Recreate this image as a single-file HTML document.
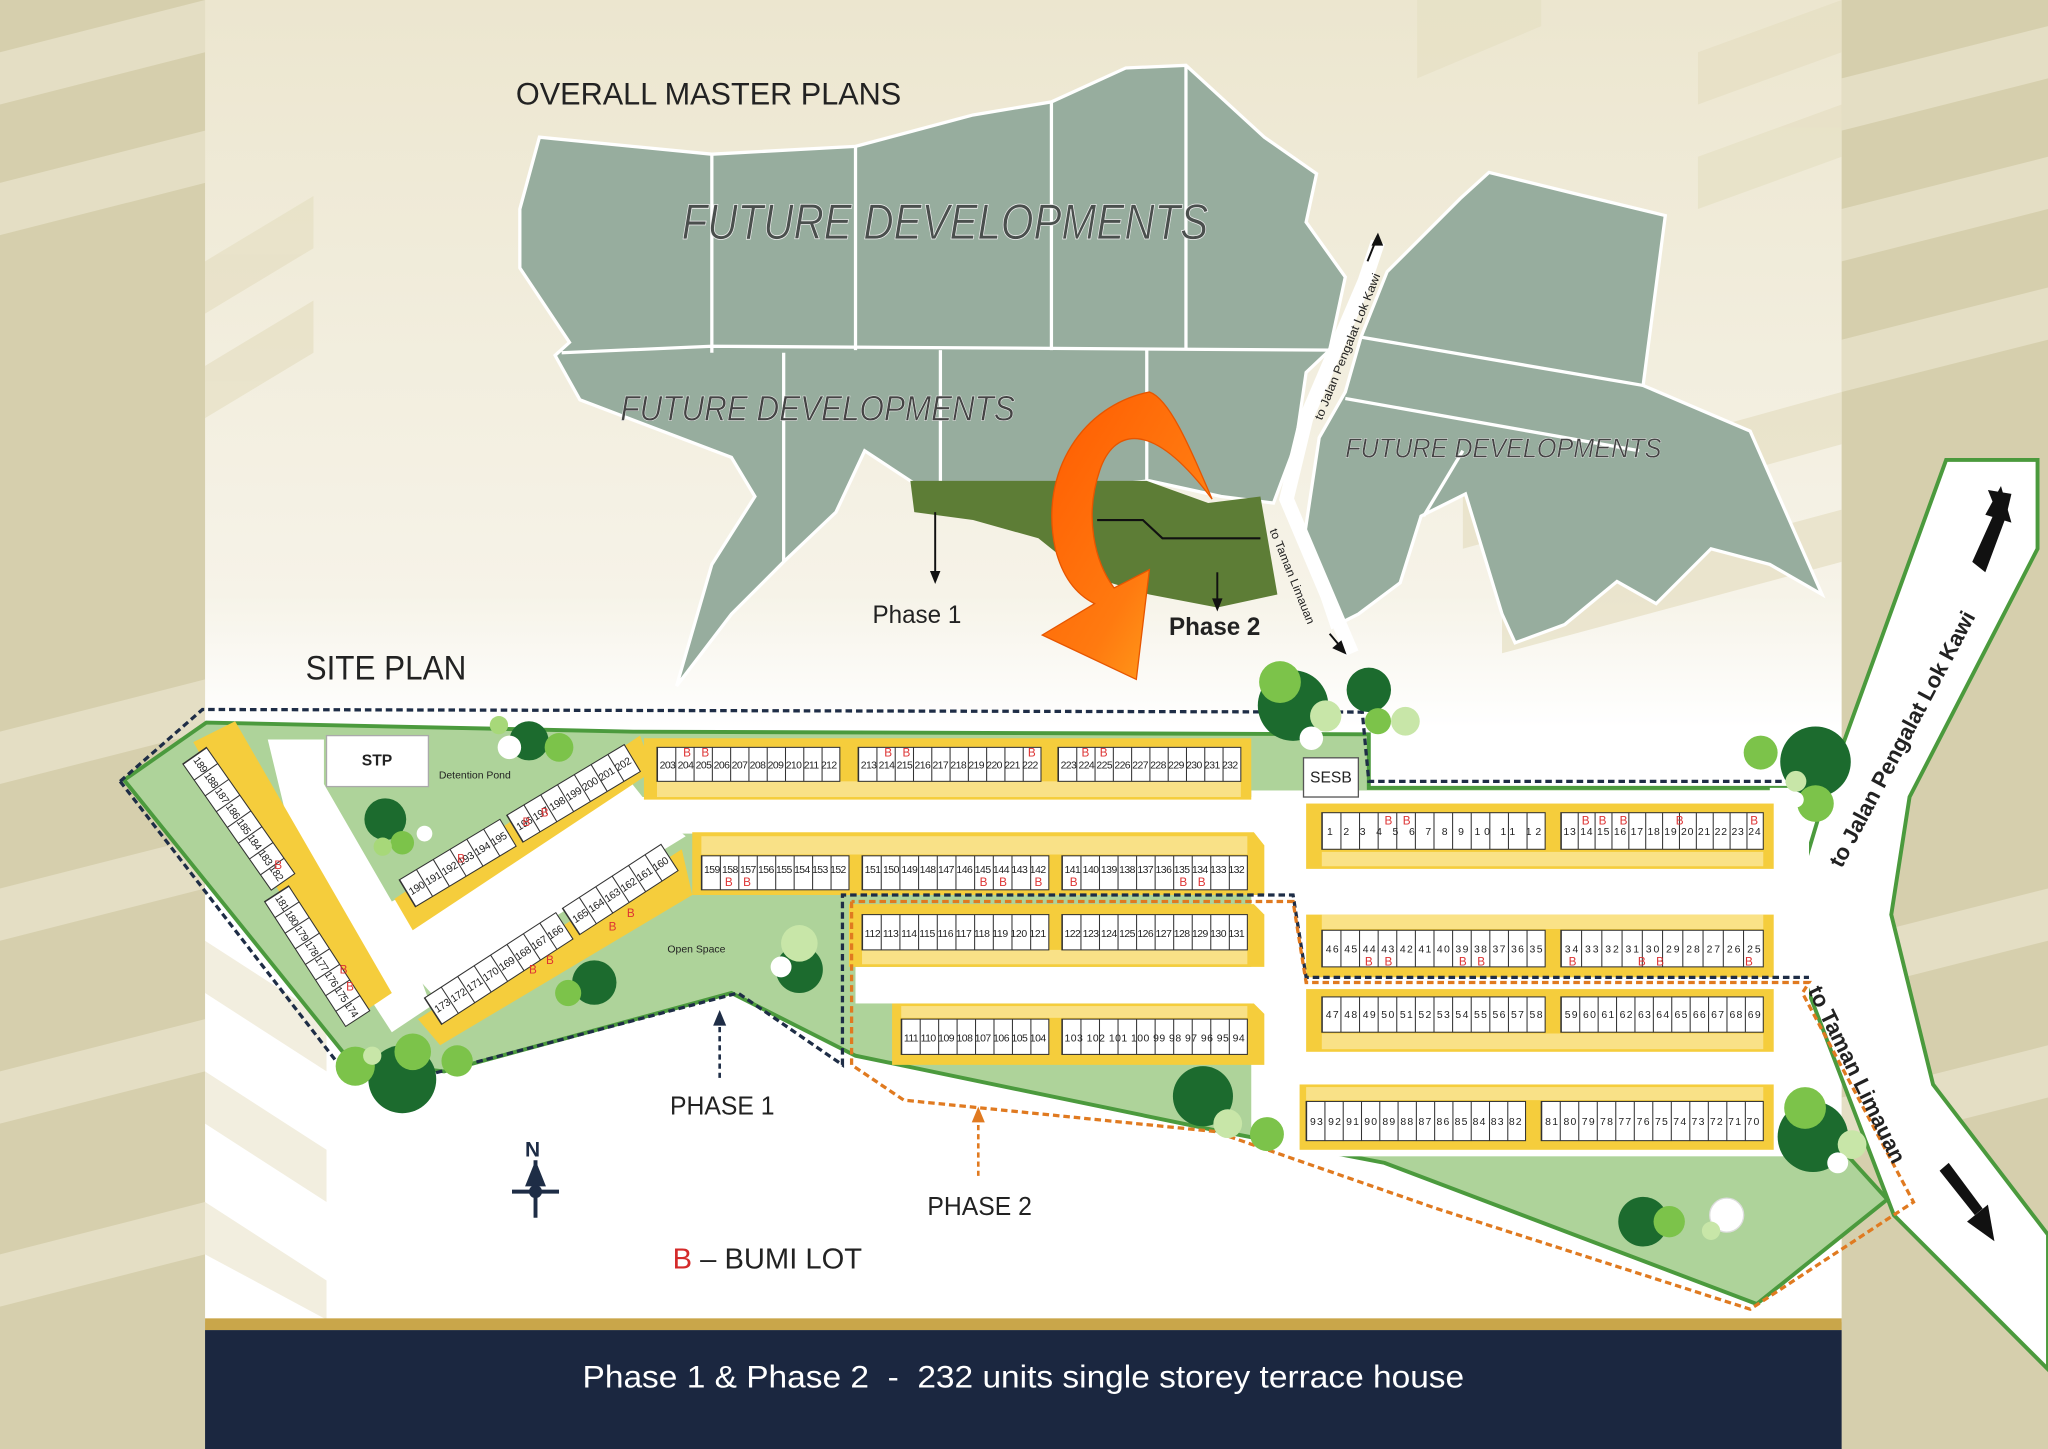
<!DOCTYPE html>
<html><head><meta charset="utf-8"><style>
html,body{margin:0;padding:0;background:#d8d0b0}
svg{display:block}
text{font-family:"Liberation Sans",sans-serif}
.n{font-size:8px;fill:#222}
.b{font-size:9px;fill:#d33}
</style></head><body>
<svg width="2048" height="1449" viewBox="0 0 1568 1109" preserveAspectRatio="none" xmlns="http://www.w3.org/2000/svg">
<defs>
<linearGradient id="og" x1="0" y1="0" x2="1" y2="1"><stop offset="0" stop-color="#ff5a00"/><stop offset="0.6" stop-color="#ff7a10"/><stop offset="1" stop-color="#ffb020"/></linearGradient>
<linearGradient id="bg" x1="0" y1="0" x2="0" y2="1"><stop offset="0" stop-color="#ece6cf"/><stop offset="0.45" stop-color="#f6f3e8"/><stop offset="0.55" stop-color="#ffffff"/></linearGradient>
</defs>
<rect x="0" y="0" width="1568" height="1109" fill="#d6cfad"/>
<g fill="#e4dec4">
<polygon points="0,40 157,0 157,40 0,80"/><polygon points="0,140 157,100 157,140 0,180"/><polygon points="0,560 157,520 157,560 0,600"/><polygon points="0,680 157,640 157,680 0,720"/><polygon points="0,820 157,780 157,820 0,860"/><polygon points="0,960 157,920 157,960 0,1000"/>
<polygon points="1410,60 1568,20 1568,60 1410,100"/><polygon points="1410,160 1568,120 1568,160 1410,200"/><polygon points="1410,260 1568,220 1568,260 1410,300"/>
<polygon points="1410,720 1568,680 1568,720 1410,760"/><polygon points="1410,840 1568,800 1568,840 1410,880"/>
</g>
<rect x="157" y="0" width="1253" height="1012" fill="url(#bg)"/>
<g fill="#e6dfc3" opacity="0.7">
<polygon points="157,200 240,150 240,190 157,240"/><polygon points="157,280 240,230 240,270 157,320"/>
<polygon points="1085,0 1180,0 1180,20 1085,60"/><polygon points="1300,40 1410,0 1410,40 1300,80"/><polygon points="1300,120 1410,80 1410,120 1300,160"/>
<polygon points="1120,380 1410,300 1410,340 1120,420"/><polygon points="1150,460 1410,390 1410,430 1150,500"/>
<polygon points="157,620 250,680 250,720 157,660" fill="#ede7d2"/><polygon points="157,720 250,780 250,820 157,760" fill="#ede7d2"/><polygon points="157,820 250,880 250,920 157,860" fill="#ede7d2"/><polygon points="157,920 250,980 250,1010 157,960" fill="#ede7d2"/>
</g>

<g fill="#97ad9e" stroke="#ffffff" stroke-width="2.5">
<polygon points="398,160 413,105 545,118 655,112 745,88 805,78 862,52 908,50 968,105 1008,133 1000,170 1030,212 1018,268 1000,285 992,340 975,385 935,380 880,368 790,378 700,370 662,345 640,392 600,430 560,470 518,525 545,432 578,380 560,350 444,306 425,272 436,262 398,205"/>
<polygon points="1042,258 1062,208 1118,152 1140,132 1205,148 1275,165 1258,295 1340,330 1395,455 1355,432 1310,420 1268,462 1238,445 1198,478 1160,492 1150,470 1122,378 1088,395 1072,446 1040,470 1020,480 998,415 1010,335 1030,300"/>
</g>
<g stroke="#ffffff" stroke-width="2.5" fill="none">
<line x1="545" y1="118" x2="545" y2="270"/><line x1="655" y1="112" x2="655" y2="268"/><line x1="805" y1="78" x2="805" y2="268"/><line x1="908" y1="50" x2="908" y2="268"/>
<polyline points="430,270 545,265 1020,268"/><line x1="720" y1="268" x2="720" y2="370"/><line x1="878" y1="268" x2="878" y2="368"/><line x1="600" y1="270" x2="600" y2="430"/>
<line x1="1042" y1="258" x2="1258" y2="295"/><line x1="1030" y1="305" x2="1255" y2="345"/><line x1="1090" y1="395" x2="1120" y2="345"/>
</g>
<polyline points="1055,185 1045,215 1000,320 985,382 1035,500" fill="none" stroke="#ffffff" stroke-width="11"/>
<line x1="1047" y1="200" x2="1055" y2="180" stroke="#111" stroke-width="1.5"/><polygon points="1055,178 1050,188 1059,188" fill="#111"/>
<line x1="1018" y1="485" x2="1028" y2="497" stroke="#111" stroke-width="1.5"/><polygon points="1031,501 1020,496 1027,490" fill="#111"/>
<text transform="translate(1012,322) rotate(-68)" font-size="9" fill="#222" textLength="120" lengthAdjust="spacingAndGlyphs">to Jalan Pengalat Lok Kawi</text>
<text transform="translate(972,406) rotate(68)" font-size="9" fill="#222" textLength="78" lengthAdjust="spacingAndGlyphs">to Taman Limauan</text>
<polygon points="697,368 878,368 925,385 965,380 978,455 932,465 880,455 830,440 795,412 745,398 700,392" fill="#5d7d36"/>
<polyline points="840,398 875,398 890,412 965,412" fill="none" stroke="#111" stroke-width="1.6"/>
<line x1="716" y1="392" x2="716" y2="440" stroke="#111" stroke-width="1.5"/><polygon points="716,447 712,437 720,437" fill="#111"/>
<line x1="932" y1="438" x2="932" y2="462" stroke="#111" stroke-width="1.5"/><polygon points="932,468 928,458 936,458" fill="#111"/>
<text x="668" y="477" font-size="19" fill="#222" textLength="68" lengthAdjust="spacingAndGlyphs">Phase 1</text>
<text x="895" y="486" font-size="19" fill="#222" font-weight="bold" textLength="70" lengthAdjust="spacingAndGlyphs">Phase 2</text>
<path d="M880,300 C830,310 795,360 808,420 C815,448 830,458 838,462 L798,486 L870,520 L880,436 L853,450 C838,430 830,395 842,360 C852,330 880,318 928,382 C910,340 895,305 880,300 Z" fill="url(#og)" stroke="#e65500" stroke-width="1"/>
<text x="395" y="80" font-size="24" fill="#222" textLength="295" lengthAdjust="spacingAndGlyphs">OVERALL MASTER PLANS</text>
<text x="522" y="183" font-size="38" font-style="italic" fill="#4a4f4d" stroke="#eee" stroke-width="0.6" textLength="403" lengthAdjust="spacingAndGlyphs">FUTURE DEVELOPMENTS</text>
<text x="475" y="322" font-size="27" font-style="italic" fill="#444" stroke="#eee" stroke-width="0.4" textLength="302" lengthAdjust="spacingAndGlyphs">FUTURE DEVELOPMENTS</text>
<text x="1030" y="350" font-size="21" font-style="italic" fill="#444" stroke="#eee" stroke-width="0.3" textLength="242" lengthAdjust="spacingAndGlyphs">FUTURE DEVELOPMENTS</text>

<text x="234" y="520" font-size="26" fill="#222" textLength="123" lengthAdjust="spacingAndGlyphs">SITE PLAN</text>
<polygon points="1490,352 1400,600 1370,700 1382,752 1450,930 1568,1048 1568,945 1480,830 1448,700 1462,610 1560,420 1560,352" fill="#ffffff" stroke="#4b9a3d" stroke-width="3"/>
<polygon points="95,597 158,553 485,560 1048,562 1048,603 1385,603 1372,695 1365,830 1445,918 1345,998 1060,890 930,865 655,808 560,760 340,820 268,812" fill="#aed39a" stroke="#4b9a3d" stroke-width="3"/>
<g fill="#ffffff">
<rect x="480" y="610" width="490" height="28"/>
<polygon points="300,690 480,595 500,620 525,640 330,760 312,740"/>
<polygon points="205,566 248,566 248,600 300,690 330,770 300,790 235,690"/>
<rect x="958" y="605" width="427" height="280"/>
<rect x="655" y="740" width="313" height="28"/>
<rect x="1355" y="603" width="30" height="100"/>
</g>
<rect x="250" y="563" width="78" height="39" fill="#fff" stroke="#aaa"/>
<text x="277" y="586" font-size="12" font-weight="bold" fill="#222">STP</text>
<text x="336" y="596" font-size="8" fill="#222">Detention Pond</text>
<rect x="998" y="580" width="42" height="30" fill="#fff" stroke="#555"/>
<text x="1003" y="599" font-size="12" fill="#222">SESB</text>
<text x="511" y="729" font-size="8" fill="#222">Open Space</text>

<g fill="#f5cd3c">
<polygon points="493,565 958,565 958,612 493,612"/>
<polygon points="530,637 960,637 968,647 968,685 530,685"/>
<polygon points="650,692 960,692 968,700 968,740 650,740"/>
<polygon points="683,768 960,768 968,776 968,815 683,815"/>
<rect x="1000" y="615" width="358" height="50"/>
<rect x="1000" y="700" width="358" height="48"/>
<rect x="1000" y="757" width="358" height="48"/>
<rect x="995" y="830" width="363" height="50"/>
<polygon points="302,688 490,563 500,590 316,712"/>
<polygon points="320,780 522,650 530,685 337,800"/>
<polygon points="148,568 180,552 300,760 270,780"/>
</g>
<g fill="#fbe79a" opacity="0.8">
<rect x="503" y="598" width="447" height="12"/><rect x="537" y="640" width="418" height="14"/><rect x="660" y="727" width="295" height="11"/><rect x="690" y="770" width="265" height="9"/>
<rect x="1012" y="652" width="338" height="11"/><rect x="1012" y="700" width="338" height="11"/><rect x="1012" y="791" width="338" height="12"/><rect x="1000" y="832" width="350" height="10"/>
</g>

<g stroke="#333" stroke-width="0.8" fill="#fff">
<rect x="503" y="572" width="140" height="26"/><rect x="657" y="572" width="140" height="26"/><rect x="810" y="572" width="140" height="26"/>
<rect x="537" y="655" width="113" height="26"/><rect x="660" y="655" width="143" height="26"/><rect x="813" y="655" width="142" height="26"/>
<rect x="660" y="700" width="143" height="27"/><rect x="813" y="700" width="142" height="27"/>
<rect x="690" y="780" width="113" height="27"/><rect x="813" y="780" width="142" height="27"/>
<rect x="1012" y="622" width="171" height="28"/><rect x="1195" y="622" width="155" height="28"/>
<rect x="1012" y="712" width="171" height="28"/><rect x="1195" y="712" width="155" height="28"/>
<rect x="1012" y="763" width="171" height="27"/><rect x="1195" y="763" width="155" height="27"/>
<rect x="1000" y="843" width="168" height="30"/><rect x="1180" y="843" width="170" height="30"/>
</g>
<g stroke="#333" stroke-width="27" fill="none">
<line x1="503" y1="585" x2="643" y2="585" stroke-width="26" stroke-dasharray="0.8 13.2"/>
<line x1="657" y1="585" x2="797" y2="585" stroke-width="26" stroke-dasharray="0.8 13.2"/>
<line x1="810" y1="585" x2="950" y2="585" stroke-width="26" stroke-dasharray="0.8 13.2"/>
<line x1="537" y1="668" x2="650" y2="668" stroke-width="26" stroke-dasharray="0.8 13.325"/>
<line x1="660" y1="668" x2="803" y2="668" stroke-width="26" stroke-dasharray="0.8 13.5"/>
<line x1="813" y1="668" x2="955" y2="668" stroke-width="26" stroke-dasharray="0.8 13.4"/>
<line x1="660" y1="713.5" x2="803" y2="713.5" stroke-dasharray="0.8 13.5"/>
<line x1="813" y1="713.5" x2="955" y2="713.5" stroke-dasharray="0.8 13.4"/>
<line x1="690" y1="793.5" x2="803" y2="793.5" stroke-dasharray="0.8 13.325"/>
<line x1="813" y1="793.5" x2="955" y2="793.5" stroke-dasharray="0.8 13.4"/>
<line x1="1012" y1="636" x2="1183" y2="636" stroke-width="28" stroke-dasharray="0.8 13.45"/>
<line x1="1195" y1="636" x2="1350" y2="636" stroke-width="28" stroke-dasharray="0.8 12.12"/>
<line x1="1012" y1="726" x2="1183" y2="726" stroke-width="28" stroke-dasharray="0.8 13.45"/>
<line x1="1195" y1="726" x2="1350" y2="726" stroke-width="28" stroke-dasharray="0.8 14.7"/>
<line x1="1012" y1="776.5" x2="1183" y2="776.5" stroke-dasharray="0.8 13.45"/>
<line x1="1195" y1="776.5" x2="1350" y2="776.5" stroke-dasharray="0.8 13.29"/>
<line x1="1000" y1="858" x2="1168" y2="858" stroke-width="30" stroke-dasharray="0.8 13.2"/>
<line x1="1180" y1="858" x2="1350" y2="858" stroke-width="30" stroke-dasharray="0.8 13.37"/>
</g>
<g>
<text x="505" y="588" textLength="136" lengthAdjust="spacing" class="n">203 204 205 206 207 208 209 210 211 212</text>
<text x="659" y="588" textLength="136" lengthAdjust="spacing" class="n">213 214 215 216 217 218 219 220 221 222</text>
<text x="812" y="588" textLength="136" lengthAdjust="spacing" class="n">223 224 225 226 227 228 229 230 231 232</text>
<text x="539" y="668" textLength="109" lengthAdjust="spacing" class="n">159 158 157 156 155 154 153 152</text>
<text x="662" y="668" textLength="139" lengthAdjust="spacing" class="n">151 150 149 148 147 146 145 144 143 142</text>
<text x="815" y="668" textLength="138" lengthAdjust="spacing" class="n">141 140 139 138 137 136 135 134 133 132</text>
<text x="662" y="717" textLength="139" lengthAdjust="spacing" class="n">112 113 114 115 116 117 118 119 120 121</text>
<text x="815" y="717" textLength="138" lengthAdjust="spacing" class="n">122 123 124 125 126 127 128 129 130 131</text>
<text x="692" y="797" textLength="109" lengthAdjust="spacing" class="n">111 110 109 108 107 106 105 104</text>
<text x="815" y="797" textLength="138" lengthAdjust="spacing" class="n">103 102 101 100 99 98 97 96 95 94</text>
<text x="1016" y="639" textLength="164" lengthAdjust="spacing" class="n">1 2 3 4 5 6 7 8 9 10 11 12</text>
<text x="1197" y="639" textLength="151" lengthAdjust="spacing" class="n">13 14 15 16 17 18 19 20 21 22 23 24</text>
<text x="1015" y="729" textLength="166" lengthAdjust="spacing" class="n">46 45 44 43 42 41 40 39 38 37 36 35</text>
<text x="1198" y="729" textLength="150" lengthAdjust="spacing" class="n">34 33 32 31 30 29 28 27 26 25</text>
<text x="1015" y="779" textLength="166" lengthAdjust="spacing" class="n">47 48 49 50 51 52 53 54 55 56 57 58</text>
<text x="1198" y="779" textLength="150" lengthAdjust="spacing" class="n">59 60 61 62 63 64 65 66 67 68 69</text>
<text x="1003" y="861" textLength="162" lengthAdjust="spacing" class="n">93 92 91 90 89 88 87 86 85 84 83 82</text>
<text x="1183" y="861" textLength="164" lengthAdjust="spacing" class="n">81 80 79 78 77 76 75 74 73 72 71 70</text>
</g>
<g transform="translate(318,694) rotate(-31)">
<rect x="0" y="-24" width="90" height="24" fill="#fff" stroke="#333" stroke-width="0.8"/><rect x="96" y="-24" width="105" height="24" fill="#fff" stroke="#333" stroke-width="0.8"/>
<line x1="0" y1="-12" x2="90" y2="-12" stroke="#333" stroke-width="24" stroke-dasharray="0.8 14.2"/><line x1="96" y1="-12" x2="201" y2="-12" stroke="#333" stroke-width="24" stroke-dasharray="0.8 14.2"/>
<text x="2" y="-9" textLength="86" lengthAdjust="spacing" class="n">190 191 192 193 194 195</text>
<text x="98" y="-9" textLength="101" lengthAdjust="spacing" class="n">196 197 198 199 200 201 202</text>
</g>
<g transform="translate(338,784) rotate(-33)">
<rect x="0" y="-24" width="120" height="24" fill="#fff" stroke="#333" stroke-width="0.8"/><rect x="126" y="-24" width="90" height="24" fill="#fff" stroke="#333" stroke-width="0.8"/>
<line x1="0" y1="-12" x2="120" y2="-12" stroke="#333" stroke-width="24" stroke-dasharray="0.8 14.2"/><line x1="126" y1="-12" x2="216" y2="-12" stroke="#333" stroke-width="24" stroke-dasharray="0.8 14.2"/>
<text x="2" y="-9" textLength="116" lengthAdjust="spacing" class="n">173 172 171 170 169 168 167 166</text>
<text x="128" y="-9" textLength="86" lengthAdjust="spacing" class="n">165 164 163 162 161 160</text>
</g>
<g transform="translate(158,572) rotate(55)">
<rect x="0" y="0" width="118" height="22" fill="#fff" stroke="#333" stroke-width="0.8"/>
<line x1="0" y1="11" x2="118" y2="11" stroke="#333" stroke-width="22" stroke-dasharray="0.8 13.95"/>
<text x="2" y="14" textLength="114" lengthAdjust="spacing" class="n">189 188 187 186 185 184 183 182</text>
</g>
<g transform="translate(221,678) rotate(57)">
<rect x="0" y="0" width="114" height="22" fill="#fff" stroke="#333" stroke-width="0.8"/>
<line x1="0" y1="11" x2="114" y2="11" stroke="#333" stroke-width="22" stroke-dasharray="0.8 13.45"/>
<text x="2" y="14" textLength="110" lengthAdjust="spacing" class="n">181 180 179 178 177 176 175 174</text>
</g>
<g class="b">
<text x="523" y="579">B</text><text x="537" y="579">B</text><text x="677" y="579">B</text><text x="691" y="579">B</text><text x="787" y="579">B</text><text x="828" y="579">B</text><text x="842" y="579">B</text>
<text x="555" y="678">B</text><text x="569" y="678">B</text><text x="750" y="678">B</text><text x="765" y="678">B</text><text x="792" y="678">B</text><text x="819" y="678">B</text><text x="903" y="678">B</text><text x="917" y="678">B</text>
<text x="1060" y="631">B</text><text x="1074" y="631">B</text><text x="1211" y="631">B</text><text x="1224" y="631">B</text><text x="1240" y="631">B</text><text x="1283" y="631">B</text><text x="1340" y="631">B</text>
<text x="1045" y="739">B</text><text x="1060" y="739">B</text><text x="1117" y="739">B</text><text x="1131" y="739">B</text><text x="1201" y="739">B</text><text x="1254" y="739">B</text><text x="1268" y="739">B</text><text x="1336" y="739">B</text>
<text x="210" y="665">B</text><text x="260" y="745">B</text><text x="265" y="758">B</text><text x="350" y="660">B</text><text x="400" y="632">B</text><text x="414" y="625">B</text><text x="405" y="745">B</text><text x="418" y="738">B</text><text x="466" y="712">B</text><text x="480" y="702">B</text>
</g>

<polyline points="92,598 155,543 1043,545 1048,598 1385,598" fill="none" stroke="#1e2d46" stroke-width="2.5" stroke-dasharray="5,3"/>
<polyline points="92,598 265,822 330,822 565,760 645,815 645,685 990,685 1000,748 1385,748" fill="none" stroke="#1e2d46" stroke-width="2.5" stroke-dasharray="5,3"/>
<polyline points="652,690 652,815 692,842 930,866 1100,925 1340,1002 1465,920 1380,760 1385,752 1000,752 990,690 652,690" fill="none" stroke="#e07a20" stroke-width="2.5" stroke-dasharray="5,3"/>

<g>
<circle cx="405" cy="567" r="15" fill="#1c6b2e"/><circle cx="390" cy="572" r="9" fill="#fff"/><circle cx="428" cy="572" r="11" fill="#7cc34a"/><circle cx="382" cy="555" r="7" fill="#a7d879"/>
<circle cx="295" cy="627" r="16" fill="#1c6b2e"/><circle cx="308" cy="645" r="9" fill="#7cc34a"/><circle cx="325" cy="638" r="6" fill="#fff"/><circle cx="293" cy="648" r="7" fill="#a7d879"/>
<circle cx="455" cy="752" r="17" fill="#1c6b2e"/><circle cx="435" cy="760" r="10" fill="#7cc34a"/>
<circle cx="612" cy="742" r="18" fill="#1c6b2e"/><circle cx="598" cy="740" r="8" fill="#fff"/><circle cx="612" cy="722" r="14" fill="#c8e6a8"/>
<circle cx="308" cy="826" r="26" fill="#1c6b2e"/><circle cx="272" cy="816" r="15" fill="#7cc34a"/><circle cx="316" cy="805" r="14" fill="#7cc34a"/><circle cx="350" cy="812" r="12" fill="#7cc34a"/><circle cx="285" cy="808" r="7" fill="#c8e6a8"/>
<circle cx="990" cy="540" r="27" fill="#1c6b2e"/><circle cx="980" cy="522" r="16" fill="#7cc34a"/><circle cx="1015" cy="548" r="12" fill="#c8e6a8"/><circle cx="1004" cy="565" r="9" fill="#fff"/>
<circle cx="1048" cy="528" r="17" fill="#1c6b2e"/><circle cx="1055" cy="552" r="10" fill="#7cc34a"/><circle cx="1076" cy="552" r="11" fill="#c8e6a8"/>
<circle cx="1390" cy="583" r="27" fill="#1c6b2e"/><circle cx="1348" cy="576" r="13" fill="#7cc34a"/><circle cx="1390" cy="615" r="14" fill="#7cc34a"/><circle cx="1375" cy="598" r="8" fill="#c8e6a8"/><circle cx="1375" cy="612" r="6" fill="#fff"/>
<circle cx="921" cy="839" r="23" fill="#1c6b2e"/><circle cx="940" cy="860" r="11" fill="#c8e6a8"/><circle cx="970" cy="850" r="8" fill="#fff"/><circle cx="970" cy="868" r="13" fill="#7cc34a"/>
<circle cx="1388" cy="870" r="27" fill="#1c6b2e"/><circle cx="1382" cy="848" r="16" fill="#7cc34a"/><circle cx="1418" cy="876" r="11" fill="#c8e6a8"/><circle cx="1407" cy="890" r="8" fill="#fff"/>
<circle cx="1258" cy="935" r="19" fill="#1c6b2e"/><circle cx="1278" cy="935" r="12" fill="#7cc34a"/><circle cx="1322" cy="930" r="13" fill="#fff" stroke="#ddd"/><circle cx="1310" cy="942" r="7" fill="#c8e6a8"/>
</g>

<text transform="translate(1410,665) rotate(-62)" font-size="17" font-weight="bold" fill="#222">to Jalan Pengalat Lok Kawi</text>
<text transform="translate(1384,758) rotate(64)" font-size="17" font-weight="bold" fill="#222">to Taman Limauan</text>
<polygon points="1510,430 1528,390 1522,375 1540,378 1536,395 1520,438" fill="#111"/>
<polygon points="1532,372 1520,394 1540,400" fill="#111"/>
<polygon points="1485,896 1512,930 1518,925 1492,890" fill="#111"/>
<polygon points="1527,950 1506,935 1522,922" fill="#111"/>

<line x1="551" y1="825" x2="551" y2="783" stroke="#1e2d46" stroke-width="2" stroke-dasharray="4,3"/><polygon points="551,773 546,785 556,785" fill="#1e2d46"/>
<text x="513" y="853" font-size="20" fill="#222" textLength="80" lengthAdjust="spacingAndGlyphs">PHASE 1</text>
<line x1="749" y1="900" x2="749" y2="857" stroke="#e07a20" stroke-width="2" stroke-dasharray="4,3"/><polygon points="749,847 744,859 754,859" fill="#e07a20"/>
<text x="710" y="930" font-size="20" fill="#222" textLength="80" lengthAdjust="spacingAndGlyphs">PHASE 2</text>
<text x="402" y="885" font-size="16" font-weight="bold" fill="#1e2d46">N</text>
<line x1="410" y1="888" x2="410" y2="932" stroke="#1e2d46" stroke-width="3"/>
<line x1="392" y1="912" x2="428" y2="912" stroke="#1e2d46" stroke-width="3"/>
<polygon points="410,888 402,908 418,908" fill="#1e2d46"/><circle cx="410" cy="912" r="5" fill="#1e2d46"/>
<text x="515" y="971" font-size="22" fill="#222" textLength="145" lengthAdjust="spacingAndGlyphs"><tspan fill="#d42a2a">B</tspan> – BUMI LOT</text>

<rect x="157" y="1009" width="1253" height="9" fill="#c9a64a"/>
<rect x="157" y="1018" width="1253" height="91" fill="#1b2740"/>
<text x="446" y="1062" font-size="24" fill="#ffffff" textLength="675" lengthAdjust="spacingAndGlyphs" xml:space="preserve">Phase 1 &amp; Phase 2  -  232 units single storey terrace house</text>
</svg>
</body></html>
